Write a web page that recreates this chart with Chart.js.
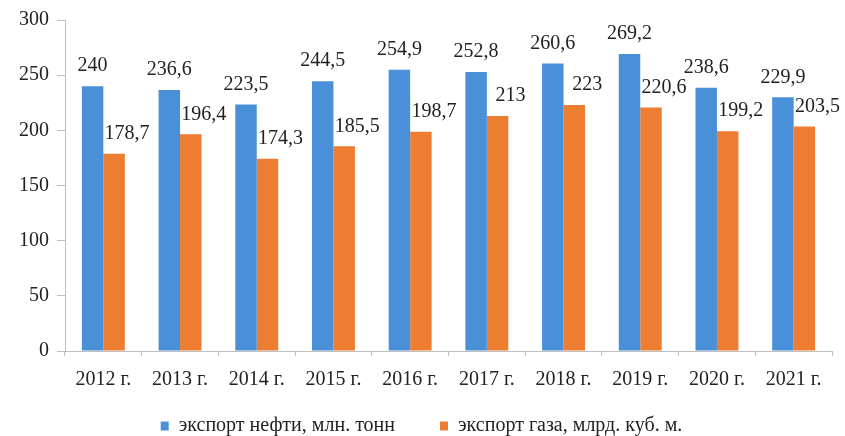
<!DOCTYPE html>
<html>
<head>
<meta charset="utf-8">
<script src="https://cdn.jsdelivr.net/npm/chart.js@4/dist/chart.umd.min.js"></script>
<style>
  html, body { margin: 0; padding: 0; background: #fff; }
  #wrap { width: 845px; height: 436px; }
</style>
</head>
<body>
<div id="wrap"><canvas id="exportChart" width="845" height="436"></canvas></div>
<script>
// годы и значения экспорта
const years = ["2012 г.", "2013 г.", "2014 г.", "2015 г.", "2016 г.", "2017 г.", "2018 г.", "2019 г.", "2020 г.", "2021 г."];
const oilExport = [240, 236.6, 223.5, 244.5, 254.9, 252.8, 260.6, 269.2, 238.6, 229.9];
const gasExport = [178.7, 196.4, 174.3, 185.5, 198.7, 213, 223, 220.6, 199.2, 203.5];
const yTicks = [0, 50, 100, 150, 200, 250, 300];

const serif = "'Liberation Serif', 'DejaVu Serif', serif";
const legendHeight = 32;   // высота блока легенды
const legendLift = 33;     // padding легенды задаёт и отступ между элементами, поэтому строку поднимаем

// подписи значений над столбцами (с запятой как разделителем)
const valueLabels = {
  id: "valueLabels",
  afterDatasetsDraw(chart) {
    const ctx = chart.ctx;
    ctx.save();
    ctx.font = "20px " + serif;
    ctx.fillStyle = "#222";
    ctx.textAlign = "center";
    ctx.textBaseline = "middle";
    chart.data.datasets.forEach((ds, i) => {
      const meta = chart.getDatasetMeta(i);
      meta.data.forEach((bar, j) => {
        const txt = String(ds.data[j]).replace(".", ",");
        const dx = i === 1 ? 13 : 0;
        ctx.fillText(txt, bar.x + dx, bar.y - 20);
      });
    });
    ctx.restore();
  }
};

// компактная легенда: широкий горизонтальный отступ, но низкий блок
const compactLegend = {
  id: "compactLegend",
  afterInit(chart) {
    const lg = chart.legend;
    const fit = lg.fit.bind(lg);
    lg.fit = function () {
      fit();
      this.height = legendHeight;
    };
  },
  afterLayout(chart) {
    chart.legend.top -= legendLift;
  }
};

new Chart(document.getElementById("exportChart"), {
  type: "bar",
  data: {
    labels: years,
    datasets: [
      {
        label: "экспорт нефти, млн. тонн",
        data: oilExport,
        backgroundColor: "#4a90d9",
        categoryPercentage: 0.56,
        barPercentage: 1.0,
      },
      {
        label: "экспорт газа, млрд. куб. м.",
        data: gasExport,
        backgroundColor: "#ed7d31",
        categoryPercentage: 0.56,
        barPercentage: 1.0,
      },
    ],
  },
  options: {
    responsive: false,
    animation: false,
    devicePixelRatio: 1,
    layout: { padding: { left: 11, right: 13, top: 14, bottom: 0 } },
    plugins: {
      tooltip: { enabled: false },
      legend: {
        position: "bottom",
        labels: {
          boxWidth: 8,
          boxHeight: 9,
          padding: 45,
          color: "#222",
          font: { family: serif, size: 20 },
        },
      },
    },
    scales: {
      x: {
        grid: { display: true, drawOnChartArea: false, drawTicks: true, tickLength: 5, color: "#bfbfbf", offset: true },
        border: { display: true, color: "#bfbfbf" },
        ticks: { color: "#222", padding: 12, font: { family: serif, size: 20 }, maxRotation: 0 },
      },
      y: {
        min: 0,
        max: 300,
        afterBuildTicks: (axis) => { axis.ticks = yTicks.map((v) => ({ value: v })); },
        grid: { display: true, drawOnChartArea: false, drawTicks: true, tickLength: 8, color: "#bfbfbf" },
        border: { display: true, color: "#bfbfbf" },
        ticks: { color: "#222", padding: 8, font: { family: serif, size: 20 } },
      },
    },
  },
  plugins: [valueLabels, compactLegend],
});
</script>
</body>
</html>
